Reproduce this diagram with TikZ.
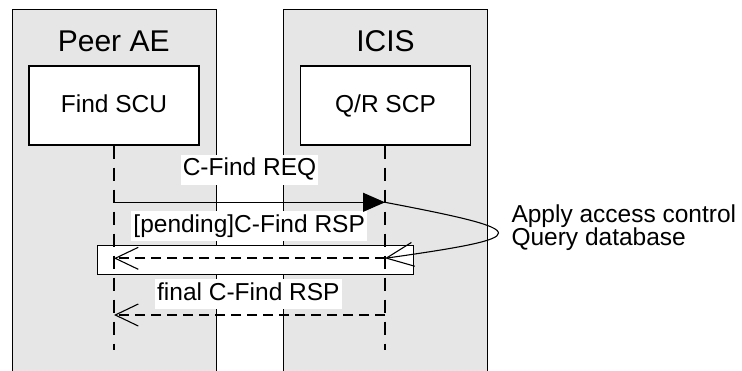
\documentclass[tikz,border=0pt]{standalone}
\usepackage{fontspec}
\setmainfont{Liberation Sans}
\usetikzlibrary{arrows.meta}
\definecolor{boxgray}{HTML}{E6E6E6}
\tikzset{
  lblfont/.style={font=\fontsize{24.5bp}{29bp}\selectfont},
  titlefont/.style={font=\fontsize{30bp}{36bp}\selectfont},
  graybox/.style={draw=black, line width=1.1bp, fill=boxgray, anchor=north west, inner sep=0pt, minimum width=204bp, minimum height=375bp},
  compbox/.style={draw=black, line width=1.1bp, fill=white, inner sep=0pt, minimum width=170bp, minimum height=79bp, lblfont, text height=18bp, text depth=3.6bp},
  lifeline/.style={line width=2bp, dash pattern=on 13bp off 9bp},
  msglbl/.style={lblfont, fill=white, inner xsep=2bp, inner ysep=1bp, text height=20bp, text depth=8bp},
  reqarrow/.style={line width=1.1bp, -{Triangle[length=22bp,width=19bp]}},
  rsparrow/.style={line width=2bp, dash pattern=on 10bp off 6bp, -{Straight Barb[length=23bp,width=22bp,line width=1.1bp]}},
  looparrow/.style={line width=1.1bp, -{Straight Barb[length=27bp,width=24bp,line width=1.1bp]}},
  framebox/.style={draw=black, line width=1.1bp, fill=white, anchor=north west, inner sep=0pt, minimum width=316bp, minimum height=28.5bp},
}
\begin{document}
\begin{tikzpicture}[x=1bp,y=-1bp]
\useasboundingbox (0,0) rectangle (742,370);
% participant boxes
\node[graybox] (peerbox) at (12,9) {};
\node[graybox] (icisbox) at (283,9) {};
\node[titlefont, anchor=base] (peertitle) at (113.7,51.7) {Peer AE};
\node[titlefont, anchor=base] (icistitle) at (385.5,51.7) {ICIS};
% component boxes
\node[compbox] (scu) at (114,105.5) {Find SCU};
\node[compbox] (scp) at (385.5,105.5) {Q/R SCP};
% frame
\node[framebox] (frame) at (97,245) {};
% lifelines
\coordinate (scuend) at (114,350);
\coordinate (scpend) at (385,350);
\draw[lifeline] (scu.south) -- (scuend);
\draw[lifeline] (scu.south -| scpend) -- (scpend);
% message labels
\node[msglbl] (reqlbl) at (249.5,169.5) {C-Find REQ};
\node[msglbl] (penlbl) at (249.2,226) {[pending]C-Find RSP};
\node[msglbl] (finlbl) at (248.4,294.2) {final C-Find RSP};
% message points
\coordinate (reqL) at (114,202.3);
\coordinate (reqR) at (385,202.3);
\coordinate (penL) at (114,258.3);
\coordinate (penR) at (385,258.3);
\coordinate (finL) at (114,315);
\coordinate (finR) at (385,315);
% messages
\draw[reqarrow] (reqL) -- (reqR);
\draw[looparrow] (reqR) .. controls (536,231) and (536,237) .. (penR);
\draw[rsparrow] (penR) -- (penL);
\draw[rsparrow] (finR) -- (finL);
% note
\node[lblfont, anchor=base west, inner sep=0pt] (note1) at (511.3,222.7) {Apply access control};
\node[lblfont, anchor=base west, inner sep=0pt] (note2) at (511.3,245.5) {Query database};
\end{tikzpicture}
\end{document}
